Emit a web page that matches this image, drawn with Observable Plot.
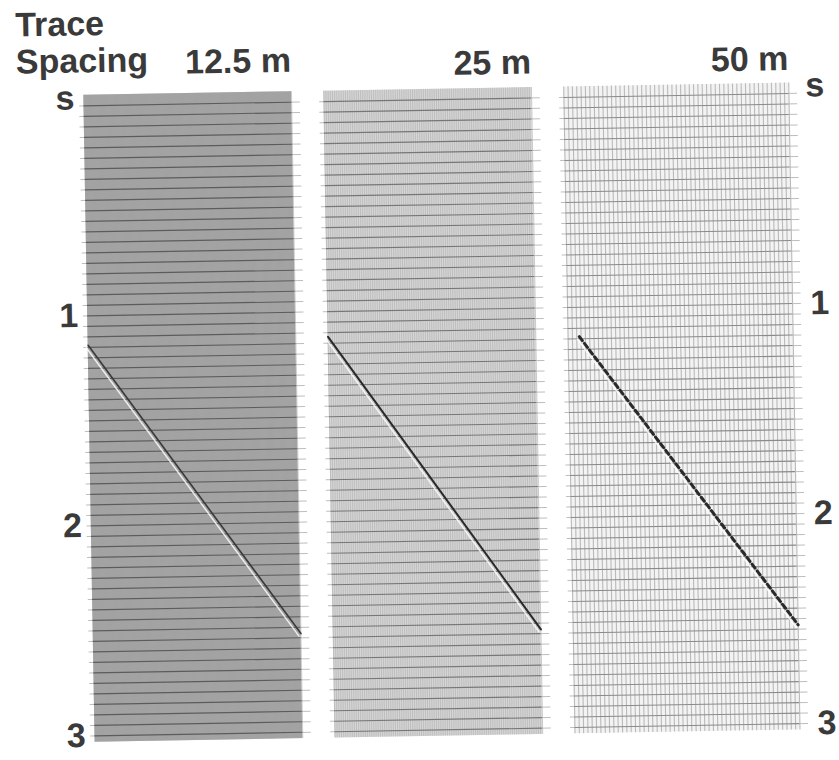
<!DOCTYPE html>
<html><head><meta charset="utf-8">
<script src="https://cdn.jsdelivr.net/npm/d3@7"></script>
<script src="https://cdn.jsdelivr.net/npm/@observablehq/plot@0.6"></script>
<style>
html,body{margin:0;padding:0;background:#fff;overflow:hidden;width:839px;height:760px}
#chart svg{display:block;transform:rotate(-1deg);transform-origin:419.5px 380px}
</style></head><body><div id="chart"></div>
<script>
// ---- data ----
const panels = ["12.5 m", "25 m", "50 m"];           // trace spacing label per panel
const traceSpacing = [12.5, 25, 50];                  // m
const profileLength = [2400, 2400, 2600];             // m, extent of traces per panel
const recordStart = -0.05;                            // s, top of the record
const recordEnd = 3.03;                               // s, bottom of the record
const timingInterval = 0.05;                          // s
const timeTicks = [1, 2, 3];
const timeUnit = "s";
const eventStartX = [0, 0, 130];                      // m
const eventEndX = [2400, 2400, 2600];                 // m
const eventStartTime = [1.14, 1.12, 1.14];            // s
const eventEndTime = [2.53, 2.53, 2.53];              // s
const titleText = "Trace\nSpacing";

// ---- styles ----
const panelFill = ["#aaaaaa", "#d6d6d6", "#f3f3f3"];
const traceStroke = ["#9c9c9c", "#b4b4b4", "#bababa"];
const traceWidth = [0.5, 0.7, 1.1];
const timingStroke = ["#5c5c5c", "#777777", "#8a8a8a"];
const eventStroke = ["#3a3a3a", "#2a2a2a", "#2a2a2a"];
const eventWidth = [1.6, 2, 3];
const eventDash = [null, null, "5,3.4"];
const headerDy = [-20, -14, -13];
const font = {fontSize: 34, fontWeight: "bold", fill: "#3a3a3a"};

// ---- marks ----
const timingTimes = d3.range(0, 3 + 1e-9, timingInterval);
const marks = [];
panels.forEach((p, i) => {
  const traces = d3.range(0, profileLength[i] + 1e-9, traceSpacing[i]).map(x => ({panel: p, x}));
  const timingOut = timingTimes.map(t => ({panel: p, t, x1: -50, x2: profileLength[i] + 100}));
  const timingIn = timingTimes.map(t => ({panel: p, t, x1: 0, x2: profileLength[i]}));
  const bg = [{panel: p, x1: 0, x2: profileLength[i], y1: recordStart, y2: recordEnd}];
  const ev = [{panel: p, x: eventStartX[i], t: eventStartTime[i]}, {panel: p, x: eventEndX[i], t: eventEndTime[i]}];
  marks.push(
    Plot.ruleY(timingOut, {fx: "panel", y: "t", x1: "x1", x2: "x2", stroke: "#bdbdbd", strokeWidth: 1}),
    Plot.rect(bg, {fx: "panel", x1: "x1", x2: "x2", y1: "y1", y2: "y2", fill: panelFill[i]}),
    Plot.ruleX(traces, {fx: "panel", x: "x", y1: recordStart, y2: recordEnd, stroke: traceStroke[i], strokeWidth: traceWidth[i]}),
    Plot.ruleY(timingIn, {fx: "panel", y: "t", x1: "x1", x2: "x2", stroke: timingStroke[i], strokeWidth: 1.1}),
    Plot.line(ev, {fx: "panel", x: "x", y: "t", stroke: "#ffffff", strokeWidth: 1.5, strokeOpacity: 0.8, dx: -2, dy: 2.5}),
    Plot.line(ev, {fx: "panel", x: "x", y: "t", stroke: eventStroke[i], strokeWidth: eventWidth[i], strokeDasharray: eventDash[i]}),
    Plot.text([{panel: p, x: profileLength[i]}], {fx: "panel", x: "x", text: "panel", frameAnchor: "top", textAnchor: "end", lineAnchor: "bottom", dy: headerDy[i], ...font})
  );
});

marks.push(
  Plot.axisY({ticks: timeTicks, anchor: "left", tickSize: 0, tickPadding: 5, tickFormat: d => String(d), ...font}),
  Plot.axisY({ticks: timeTicks, anchor: "right", tickSize: 0, tickPadding: 9, tickFormat: d => String(d), ...font}),
  Plot.text([timeUnit], {fx: () => panels[0], text: d => d, frameAnchor: "top-left", textAnchor: "end", lineAnchor: "middle", dx: -5, dy: 3, ...font}),
  Plot.text([timeUnit], {fx: () => panels[2], text: d => d, frameAnchor: "top-right", textAnchor: "start", lineAnchor: "middle", dx: 8, dy: 3, ...font}),
  Plot.text([titleText], {fx: () => panels[0], text: d => d, frameAnchor: "top-left", textAnchor: "start", lineAnchor: "bottom", dx: -63, dy: -23, lineHeight: 1.09, ...font})
);

const chart = Plot.plot({
  width: 839, height: 760,
  marginTop: 89, marginBottom: 24, marginLeft: 83, marginRight: 37,
  fx: {domain: panels, paddingInner: 0.01, paddingOuter: 0, axis: null},
  x: {domain: [-50, 2700], axis: null},
  y: {domain: [recordStart, recordEnd], reverse: true},
  style: {fontFamily: "'Liberation Sans', Arial, sans-serif", background: "#fff", color: "#3a3a3a"},
  marks
});
document.getElementById("chart").append(chart);
</script></body></html>
